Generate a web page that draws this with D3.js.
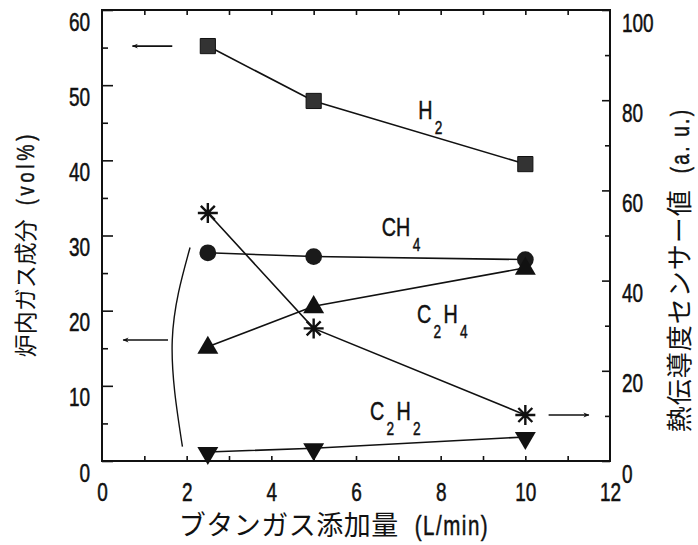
<!DOCTYPE html>
<html>
<head>
<meta charset="utf-8">
<script src="https://cdn.jsdelivr.net/npm/d3@7"></script>
<style>
  body { margin: 0; background: #fff; }
  svg { display: block; }
  .num { font-family: "Liberation Sans", Arimo, sans-serif; stroke: #111; stroke-width: 0.5px; }
  .jp { font-family: "Noto Sans CJK JP", sans-serif; }
</style>
</head>
<body>
<svg width="698" height="545"></svg>
<script>
// butane flow (L/min)
const flow = [2.5, 5, 10];
// gas composition in furnace (vol%)
const h2 = [55.2, 47.9, 39.5];
const ch4 = [27.7, 27.2, 26.8];
const c2h4 = [15.2, 20.6, 25.7];
const c2h2 = [1.2, 1.7, 3.2];
// thermal conductivity sensor (a.u.)
const sensor = [55, 29.4, 10.2];

const xTicks = [0, 2, 4, 6, 8, 10, 12];
const leftTicks = [0, 10, 20, 30, 40, 50, 60];
const rightTicks = [0, 20, 40, 60, 80, 100];

const svg = d3.select("svg");
const ink = "#111";
const K = 0.76; // horizontal squeeze for the condensed digits

const x = d3.scaleLinear().domain([0, 12]).range([102, 610]);
const yL = d3.scaleLinear().domain([0, 60]).range([461, 10]);
const yR = d3.scaleLinear().domain([0, 100]).range([461, 10]);

// frame
svg.append("rect")
  .attr("x", 102).attr("y", 10)
  .attr("width", 508).attr("height", 451)
  .attr("fill", "none").attr("stroke", ink).attr("stroke-width", 2);

function styleAxis(g) {
  g.select(".domain").remove();
  g.selectAll("line").attr("stroke", ink).attr("stroke-width", 1.6);
}

// tick text: squeezed, placed by hand relative to the tick
function tickText(g, anchor, tx, ty) {
  g.selectAll("text")
    .attr("class", "num").attr("font-size", 25).attr("fill", ink)
    .attr("text-anchor", anchor)
    .attr("transform", `scale(${K},1)`)
    .attr("x", tx / K).attr("y", ty).attr("dy", null);
}

// left axis
svg.append("g").attr("transform", "translate(102,0)")
  .call(d3.axisLeft(yL).tickValues(d3.range(5, 60, 10)).tickSize(-6).tickFormat(""))
  .call(styleAxis);
svg.append("g").attr("transform", "translate(102,0)")
  .call(d3.axisLeft(yL).tickValues(leftTicks).tickSize(-11))
  .call(styleAxis)
  .call(g => tickText(g, "end", -12, 20));

// right axis
svg.append("g").attr("transform", "translate(610,0)")
  .call(d3.axisRight(yR).tickValues(d3.range(10, 100, 20)).tickSize(-5).tickFormat(""))
  .call(styleAxis);
svg.append("g").attr("transform", "translate(610,0)")
  .call(d3.axisRight(yR).tickValues(rightTicks).tickSize(-8))
  .call(styleAxis)
  .call(g => tickText(g, "start", 12, 21));

// bottom axis
svg.append("g").attr("transform", "translate(0,461)")
  .call(d3.axisBottom(x).tickValues(d3.range(1, 12, 1)).tickSize(-5).tickFormat(""))
  .call(styleAxis);
svg.append("g").attr("transform", "translate(0,461)")
  .call(d3.axisBottom(x).tickValues(xTicks).tickSize(0))
  .call(styleAxis)
  .call(g => tickText(g, "middle", 0, 40));

// top axis ticks
svg.append("g").attr("transform", "translate(0,10)")
  .call(d3.axisTop(x).tickValues(d3.range(1, 12, 1)).tickSize(-5).tickFormat(""))
  .call(styleAxis);

// axis titles: Japanese part + squeezed latin part, centred as a whole
function title(transform, jp, jpSize, jpSpace, latin, latSize, latSpace, gap) {
  const g = svg.append("g").attr("transform", transform);
  const t1 = g.append("text").attr("class", "jp")
    .attr("font-size", jpSize).attr("letter-spacing", jpSpace)
    .attr("fill", ink).text(jp);
  const lg = g.append("g");
  const t2 = lg.append("text").attr("class", "num")
    .attr("font-size", latSize).attr("letter-spacing", latSpace)
    .attr("fill", ink).text(latin);
  const w1 = t1.node().getComputedTextLength();
  const w2 = t2.node().getComputedTextLength() * K;
  const start = -(w1 + gap + w2) / 2;
  t1.attr("x", start);
  lg.attr("transform", `translate(${start + w1 + gap},0) scale(${K},1)`);
}
title("translate(34,244) rotate(-90)", "炉内ガス成分", 23, 0, "(vol%)", 24, 5, 14);
title("translate(689,270) rotate(-90)", "熱伝導度センサー値", 26, 1, "(a. u.)", 25, 3, 16);
title("translate(334,535)", "ブタンガス添加量", 27, 0.5, "(L/min)", 27, 2, 16);

// series lines
const line = y => d3.line().x((d, i) => x(flow[i])).y(d => y(d));
const series = [
  { v: h2, y: yL }, { v: ch4, y: yL }, { v: c2h4, y: yL },
  { v: c2h2, y: yL }, { v: sensor, y: yR }
];
series.forEach(s => {
  svg.append("path").datum(s.v)
    .attr("d", line(s.y))
    .attr("fill", "none").attr("stroke", ink).attr("stroke-width", 1.6);
});

// markers
function pts(vals, y) { return vals.map((v, i) => [x(flow[i]), y(v)]); }

svg.append("g").selectAll("path").data(pts(h2, yL)).join("path")
  .attr("transform", d => `translate(${d})`)
  .attr("d", d3.symbol(d3.symbolSquare, 230))
  .attr("fill", "#333").attr("stroke", ink).attr("stroke-width", 1);

svg.append("g").selectAll("path").data(pts(ch4, yL)).join("path")
  .attr("transform", d => `translate(${d})`)
  .attr("d", d3.symbol(d3.symbolCircle, 220))
  .attr("fill", "#1a1a1a");

svg.append("g").selectAll("path").data(pts(c2h4, yL)).join("path")
  .attr("transform", d => `translate(${d[0]},${d[1] + 1})`)
  .attr("d", d3.symbol(d3.symbolTriangle, 190))
  .attr("fill", ink);

svg.append("g").selectAll("path").data(pts(c2h2, yL)).join("path")
  .attr("transform", d => `translate(${d[0]},${d[1] + 1}) rotate(180)`)
  .attr("d", d3.symbol(d3.symbolTriangle, 190))
  .attr("fill", ink);

const star = "M0,-10V10M-10,0H10M-7,-7L7,7M-7,7L7,-7";
svg.append("g").selectAll("path").data(pts(sensor, yR)).join("path")
  .attr("transform", d => `translate(${d})`)
  .attr("d", star)
  .attr("fill", "none").attr("stroke", ink).attr("stroke-width", 2.4);

// series labels (squeezed like the reference lettering)
function label(xv, yv, parts) {
  const t = svg.append("g")
    .attr("transform", `translate(${x(xv)},${yL(yv)}) scale(${K},1)`)
    .append("text").attr("class", "num")
    .attr("font-size", 26).attr("fill", ink);
  parts.forEach(p => {
    const s = t.append("tspan").text(p[0]);
    if (p[1]) s.attr("font-size", 18).attr("dy", 15).attr("dx", 3);
    else if (p[2]) s.attr("dy", -15).attr("dx", 3);
  });
}
label(7.47, 45.5, [["H"], ["2", true]]);
label(6.61, 29.9, [["CH"], ["4", true]]);
label(7.44, 18.4, [["C"], ["2", true], ["H", false, true], ["4", true]]);
label(6.33, 5.5, [["C"], ["2", true], ["H", false, true], ["2", true]]);

// arrows and bracket
svg.append("defs").append("marker")
  .attr("id", "head").attr("viewBox", "0 0 10 10")
  .attr("refX", 9).attr("refY", 5)
  .attr("markerWidth", 9).attr("markerHeight", 6)
  .attr("markerUnits", "userSpaceOnUse")
  .attr("orient", "auto")
  .append("path").attr("d", "M0,1L10,5L0,9L3,5Z").attr("fill", ink);

function arrow(x1, x2, yv, y) {
  svg.append("line")
    .attr("x1", x(x1)).attr("x2", x(x2))
    .attr("y1", y(yv)).attr("y2", y(yv))
    .attr("stroke", ink).attr("stroke-width", 1.6)
    .attr("marker-end", "url(#head)");
}
arrow(1.66, 0.72, 55.2, yL);
arrow(1.56, 0.5, 16.1, yL);
arrow(10.55, 11.5, 10.2, yR);

const bracket = [[2.08, 28.4], [1.66, 16.1], [1.9, 1.9]];
svg.append("path")
  .attr("d", d3.line().x(d => x(d[0])).y(d => yL(d[1])).curve(d3.curveNatural)(bracket))
  .attr("fill", "none").attr("stroke", ink).attr("stroke-width", 1.4);
</script>
</body>
</html>
